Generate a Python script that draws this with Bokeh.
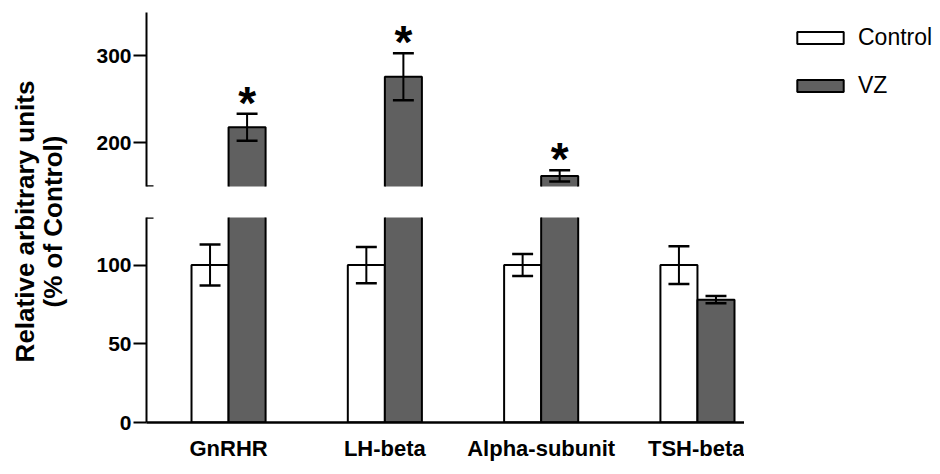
import math
import numpy as np
from bokeh.plotting import figure
from bokeh.models import (ColumnDataSource, Range1d, FixedTicker, LinearAxis,
                          Legend, LegendItem, Label)
from bokeh.layouts import row, column
from bokeh.transform import dodge
from bokeh.core.properties import value
from bokeh.embed import file_html
from bokeh.resources import INLINE

# ---- data ----
categories = ["GnRHR", "LH-beta", "Alpha-subunit", "TSH-beta"]
control_mean = [100, 100, 100, 100]
control_sem = [13, 11.5, 7, 12]
vz_mean = [218, 276, 162, 78]
vz_sem = [15.5, 27, 6.5, 2.3]
significance = ["*", "*", "*", ""]

upper_ticks = [200, 300]
lower_ticks = [0, 50, 100]
break_low = 130
break_high = 150
y_top = 350

# ---- styling constants ----
FONT = "Liberation Sans"
VZ_FILL = "#606060"
BAR_W = 0.237
OFF = 0.1185
CAP = 0.067
PXU = 156.3  # pixels per category unit
X0 = -0.525
LEFT = 68

x = np.arange(len(categories))
cm, cs = np.array(control_mean, float), np.array(control_sem, float)
vm, vs = np.array(vz_mean, float), np.array(vz_sem, float)
src = ColumnDataSource(dict(
    x=x,
    ctrl=cm, ctrl_mid=cm / 2, ctrl_lo=cm - cs, ctrl_hi=cm + cs,
    vz=vm, vz_mid=vm / 2, vz_lo=vm - vs, vz_hi=vm + vs,
    star=significance,
))


def draw(p):
    rc = p.rect(x=dodge("x", -OFF), y="ctrl_mid", height="ctrl", width=BAR_W, source=src,
                fill_color="white", line_color="black", line_width=2)
    rv = p.rect(x=dodge("x", OFF), y="vz_mid", height="vz", width=BAR_W, source=src,
                fill_color=VZ_FILL, line_color="black", line_width=2)
    for off, lo, hi in ((-OFF, "ctrl_lo", "ctrl_hi"), (OFF, "vz_lo", "vz_hi")):
        p.segment(x0=dodge("x", off), x1=dodge("x", off), y0=lo, y1=hi, source=src,
                  line_color="black", line_width=2)
        for end in (lo, hi):
            p.segment(x0=dodge("x", off - CAP), x1=dodge("x", off + CAP), y0=end, y1=end,
                      source=src, line_color="black", line_width=2.5)
    return rc, rv


def style_y(p, ticks):
    ax = p.yaxis[0]
    ax.ticker = FixedTicker(ticks=ticks)
    ax.axis_line_width = 2
    ax.major_tick_line_width = 2
    ax.major_tick_out = 13
    ax.major_tick_in = 0
    ax.minor_tick_line_color = None
    ax.major_label_standoff = 2
    ax.major_label_text_font = FONT
    ax.major_label_text_font_size = "21px"
    ax.major_label_text_font_style = "bold"
    ax.major_label_text_color = "black"


def add_cap(p, tick):
    cap = LinearAxis(ticker=FixedTicker(ticks=[tick]), fixed_location=X0,
                     axis_line_color=None, major_tick_in=7, major_tick_out=7,
                     major_tick_line_width=2.5, minor_tick_line_color=None,
                     major_label_overrides={tick: ""}, major_label_standoff=0)
    p.add_layout(cap, "left")


# ---- upper panel ----
up_w, up_h = 862, 191
upper = figure(width=up_w, height=up_h, output_backend="svg", toolbar_location=None,
               x_range=Range1d(X0, X0 + (up_w - LEFT) / PXU),
               y_range=Range1d(break_high - 0.2, y_top),
               x_axis_location=None, min_border_left=LEFT, min_border_right=0,
               min_border_top=12, min_border_bottom=5)
rc, rv = draw(upper)
upper.text(x=dodge("x", OFF), y="vz_hi", text="star", source=src,
           text_font=value(FONT), text_font_style="bold", text_font_size="46px",
           text_align="center", text_baseline="alphabetic", y_offset=-11,
           text_color="black")
style_y(upper, upper_ticks)
add_cap(upper, break_high)

legend = Legend(items=[LegendItem(label="Control", renderers=[rc]),
                       LegendItem(label="VZ", renderers=[rv])],
                location=(645, 87), glyph_width=58, glyph_height=15,
                label_height=26, spacing=21, label_standoff=9, padding=0, margin=0,
                border_line_color=None, background_fill_alpha=0,
                label_text_font=FONT, label_text_font_size="23px",
                label_text_color="black")
upper.add_layout(legend)

# ---- lower panel ----
lo_w, lo_h = 666, 275
lower = figure(width=lo_w, height=lo_h, output_backend="svg", toolbar_location=None,
               x_range=Range1d(X0, X0 + (lo_w - LEFT) / PXU),
               y_range=Range1d(0, break_low + 0.2),
               min_border_left=LEFT, min_border_right=0,
               min_border_top=26, min_border_bottom=44)
draw(lower)
style_y(lower, lower_ticks)
add_cap(lower, break_low)
xa = lower.xaxis[0]
xa.ticker = FixedTicker(ticks=list(x))
xa.major_label_overrides = {int(i): c for i, c in zip(x, categories)}
xa.axis_line_width = 2.5
xa.major_tick_line_color = None
xa.minor_tick_line_color = None
xa.major_tick_out = 0
xa.major_label_standoff = 13
xa.major_label_text_font = FONT
xa.major_label_text_font_size = "22px"
xa.major_label_text_font_style = "bold"
xa.major_label_text_color = "black"

for p in (upper, lower):
    p.outline_line_color = None
    p.xgrid.visible = False
    p.ygrid.visible = False

# ---- y-axis title panel ----
title_h = up_h + lo_h
tfig = figure(width=78, height=title_h, output_backend="svg", toolbar_location=None,
              x_axis_location=None, y_axis_location=None,
              min_border_left=0, min_border_right=0, min_border_top=0, min_border_bottom=0)
tfig.outline_line_color = None
tfig.grid.visible = False
for txt, xs in (("Relative arbitrary units", 24.5), ("(% of Control)", 52)):
    tfig.add_layout(Label(x=xs, y=title_h - 221, x_units="screen", y_units="screen",
                          text=txt, angle=math.pi / 2, text_align="center",
                          text_baseline="middle", text_font=FONT,
                          text_font_size="26px", text_font_style="bold",
                          text_color="black"))

layout = row(tfig, column(upper, lower))
open("out.html", "w").write(file_html(layout, INLINE))
